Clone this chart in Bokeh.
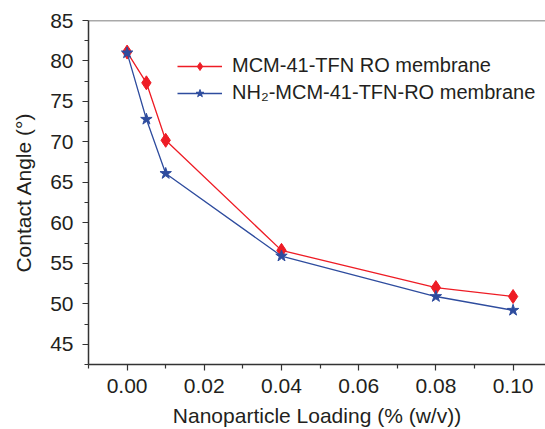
from bokeh.plotting import figure
from bokeh.models import Range1d, Legend, LegendItem, Span, FixedTicker
from bokeh.embed import file_html
from bokeh.resources import INLINE

loading = [0.0, 0.005, 0.01, 0.04, 0.08, 0.10]
mcm41 = [81.1, 77.3, 70.2, 56.6, 52.0, 50.9]
nh2_mcm41 = [81.0, 72.8, 66.1, 55.9, 50.9, 49.2]
x_ticks = [0.0, 0.02, 0.04, 0.06, 0.08, 0.10]
y_ticks = [45, 50, 55, 60, 65, 70, 75, 80, 85]

RED = "#EE1C25"
BLUE = "#2E4C9E"
FONT = "Liberation Sans"
TXT = "#231F20"

p = figure(width=545, height=429, output_backend="svg", toolbar_location=None,
           x_range=Range1d(-0.01, 0.1084), y_range=Range1d(42.5, 85),
           min_border_left=88, min_border_right=0, min_border_top=20, min_border_bottom=65)
p.outline_line_color = None
p.grid.visible = False
p.background_fill_color = "white"
p.border_fill_color = "white"

r1l = p.line(loading, mcm41, line_color=RED, line_width=1.3)
r1m = p.scatter(loading, mcm41, marker="diamond", size=14, fill_color=RED, line_color=RED)
r2l = p.line(loading, nh2_mcm41, line_color=BLUE, line_width=1.3)
r2m = p.scatter(loading, nh2_mcm41, marker="star", size=12, fill_color=BLUE, line_color=BLUE)

p.add_layout(Span(location=85, dimension="width", line_color="#555555", line_width=1.5))

for ax in (p.xaxis[0], p.yaxis[0]):
    ax.axis_line_color = "#333333"
    ax.axis_line_width = 1.5
    ax.major_tick_line_color = "#333333"
    ax.minor_tick_line_color = "#333333"
    ax.major_tick_line_width = 1.2
    ax.minor_tick_line_width = 1.2
    ax.major_tick_in = 0
    ax.minor_tick_in = 0
    ax.major_tick_out = 6
    ax.minor_tick_out = 4
    ax.major_label_text_font = FONT
    ax.major_label_text_font_size = "21px"
    ax.major_label_text_color = TXT
    ax.axis_label_text_font = FONT
    ax.axis_label_text_font_size = "21px"
    ax.axis_label_text_font_style = "normal"
    ax.axis_label_text_color = TXT

p.xaxis.ticker = FixedTicker(ticks=x_ticks, minor_ticks=[-0.01, 0.01, 0.03, 0.05, 0.07, 0.09])
p.xaxis.major_label_overrides = {t: f"{t:.2f}" for t in x_ticks}
p.xaxis.axis_label = "Nanoparticle Loading (% (w/v))"
p.xaxis.major_label_standoff = 8
p.xaxis.axis_label_standoff = 8

p.yaxis.ticker = FixedTicker(ticks=y_ticks, minor_ticks=[42.5 + 5 * i for i in range(9)])
p.yaxis.axis_label = "Contact Angle (°)"
p.yaxis.major_label_standoff = 9
p.yaxis.axis_label_standoff = 12

legend = Legend(items=[
    LegendItem(label="MCM-41-TFN RO membrane", renderers=[r1l, r1m]),
    LegendItem(label="NH₂-MCM-41-TFN-RO membrane", renderers=[r2l, r2m]),
], location=(89, 260))
legend.border_line_color = None
legend.background_fill_alpha = 0
legend.padding = 0
legend.margin = 0
legend.spacing = 4
legend.glyph_width = 45
legend.glyph_height = 20
legend.label_standoff = 10
legend.label_text_font = FONT
legend.label_text_font_size = "20px"
legend.label_text_color = TXT
p.add_layout(legend, "center")

open("out.html", "w").write(file_html(p, INLINE))
